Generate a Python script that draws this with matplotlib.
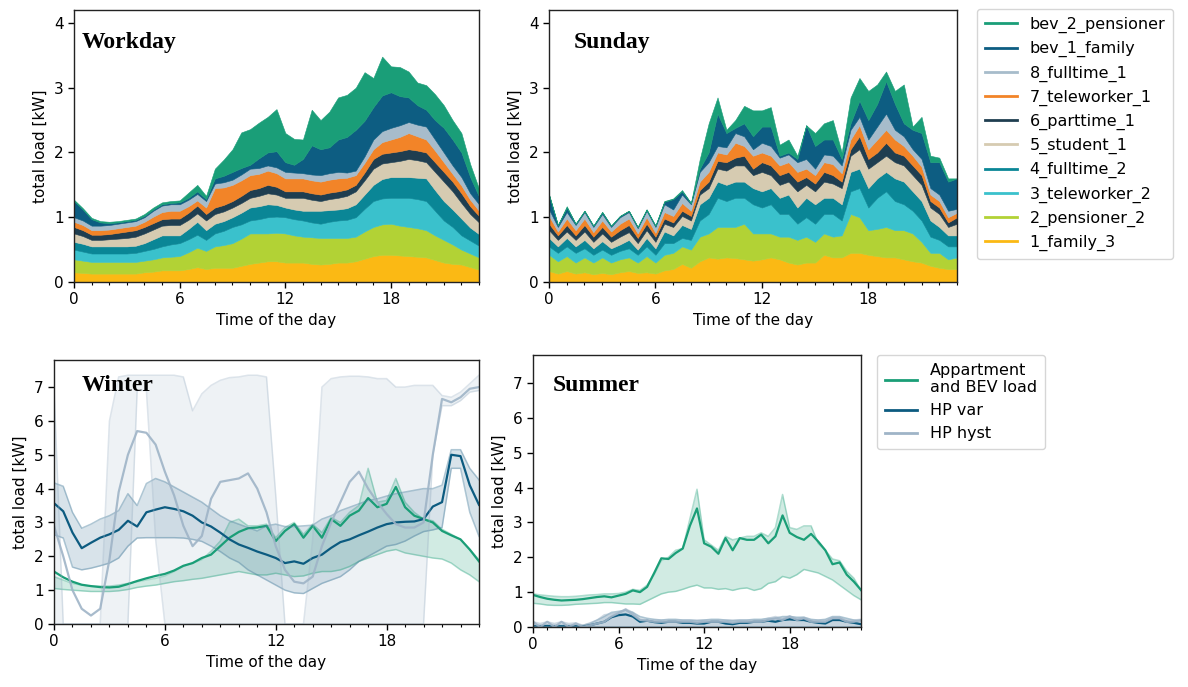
import numpy as np
import matplotlib
matplotlib.use('Agg')
import matplotlib.pyplot as plt
from matplotlib.lines import Line2D
from matplotlib.ticker import MultipleLocator

plt.rcParams['font.family'] = ['DejaVu Sans']

# time of the day (half-hour resolution)
hours = np.arange(0, 23.01, 0.5)

labels = ['1_family_3', '2_pensioner_2', '3_teleworker_2', '4_fulltime_2', '5_student_1',
          '6_parttime_1', '7_teleworker_1', '8_fulltime_1', 'bev_1_family', 'bev_2_pensioner']
colors = ['#fbb914', '#b2d235', '#3ac1cc', '#0a8696', '#d6cbb1',
          '#1f3e50', '#f28428', '#a7bccb', '#0d5d82', '#1a9e78']

# ---------------- Workday layers (kW) ----------------
wd_family_3 = [0.15,0.14,0.13,0.13,0.13,0.13,0.13,0.13,0.15,0.16,0.18,0.18,0.18,0.2,0.23,0.2,0.22,0.22,0.22,0.25,0.28,0.3,0.32,0.32,0.3,0.3,0.3,0.28,0.27,0.28,0.3,0.3,0.32,0.36,0.4,0.42,0.42,0.41,0.4,0.39,0.38,0.34,0.3,0.28,0.27,0.23,0.19]
wd_pensioner_2 = [0.2,0.19,0.18,0.18,0.18,0.18,0.18,0.18,0.18,0.19,0.2,0.21,0.22,0.26,0.3,0.28,0.33,0.35,0.38,0.42,0.47,0.45,0.43,0.44,0.45,0.42,0.4,0.41,0.41,0.4,0.38,0.38,0.38,0.42,0.45,0.47,0.48,0.46,0.45,0.44,0.42,0.38,0.35,0.3,0.23,0.21,0.19]
wd_teleworker_2 = [0.15,0.14,0.13,0.13,0.13,0.13,0.13,0.14,0.15,0.16,0.17,0.19,0.2,0.2,0.2,0.17,0.2,0.22,0.25,0.22,0.2,0.22,0.25,0.25,0.25,0.25,0.25,0.23,0.22,0.25,0.27,0.28,0.3,0.35,0.4,0.4,0.4,0.43,0.45,0.45,0.45,0.38,0.3,0.27,0.22,0.2,0.18]
wd_fulltime_2 = [0.12,0.12,0.11,0.11,0.11,0.11,0.11,0.11,0.12,0.15,0.17,0.14,0.12,0.16,0.2,0.15,0.15,0.15,0.15,0.18,0.2,0.2,0.2,0.18,0.15,0.15,0.15,0.18,0.2,0.18,0.17,0.18,0.2,0.22,0.25,0.3,0.32,0.32,0.32,0.33,0.35,0.32,0.3,0.27,0.26,0.2,0.18]
wd_student_1 = [0.13,0.12,0.1,0.1,0.11,0.12,0.13,0.14,0.15,0.15,0.15,0.16,0.16,0.14,0.13,0.15,0.15,0.15,0.15,0.15,0.15,0.16,0.17,0.16,0.15,0.18,0.2,0.17,0.15,0.17,0.18,0.19,0.2,0.22,0.25,0.24,0.23,0.25,0.28,0.27,0.25,0.28,0.3,0.28,0.24,0.21,0.18]
wd_parttime_1 = [0.1,0.09,0.08,0.08,0.08,0.09,0.1,0.1,0.1,0.1,0.1,0.1,0.1,0.11,0.12,0.1,0.1,0.1,0.1,0.11,0.12,0.12,0.13,0.12,0.1,0.1,0.1,0.1,0.1,0.1,0.1,0.1,0.1,0.12,0.15,0.15,0.15,0.15,0.15,0.15,0.15,0.15,0.15,0.15,0.15,0.12,0.1]
wd_teleworker_1 = [0.08,0.08,0.07,0.07,0.07,0.07,0.07,0.07,0.08,0.1,0.11,0.12,0.12,0.1,0.08,0.1,0.3,0.27,0.25,0.24,0.23,0.22,0.22,0.21,0.2,0.2,0.2,0.2,0.2,0.2,0.2,0.18,0.15,0.15,0.15,0.18,0.2,0.22,0.25,0.22,0.2,0.18,0.15,0.12,0.12,0.1,0.08]
wd_fulltime_1 = [0.07,0.07,0.07,0.07,0.07,0.07,0.07,0.07,0.07,0.09,0.1,0.1,0.1,0.1,0.1,0.1,0.07,0.08,0.08,0.09,0.1,0.09,0.08,0.09,0.1,0.09,0.08,0.09,0.1,0.1,0.1,0.08,0.07,0.1,0.15,0.17,0.18,0.18,0.17,0.18,0.2,0.17,0.15,0.13,0.13,0.1,0.1]
wd_bev_1 = [0.25,0.17,0.1,0.05,0.03,0.02,0.02,0.02,0.02,0.02,0.02,0.02,0.03,0.03,0.04,0.03,0.08,0.1,0.12,0.1,0.06,0.15,0.2,0.25,0.15,0.12,0.22,0.45,0.4,0.4,0.5,0.55,0.63,0.55,0.5,0.55,0.55,0.45,0.38,0.3,0.26,0.3,0.38,0.4,0.38,0.25,0.12]
wd_bev_2 = [0.02,0.02,0.02,0.02,0.02,0.02,0.02,0.02,0.03,0.03,0.03,0.03,0.03,0.08,0.1,0.05,0.15,0.25,0.35,0.55,0.55,0.55,0.55,0.65,0.45,0.4,0.3,0.55,0.45,0.55,0.65,0.65,0.65,0.75,0.45,0.6,0.4,0.45,0.4,0.35,0.38,0.4,0.35,0.3,0.3,0.2,0.12]

# ---------------- Sunday layers (kW) ----------------
su_family_3 = [0.17,0.13,0.17,0.13,0.15,0.12,0.14,0.12,0.15,0.17,0.14,0.15,0.13,0.18,0.2,0.28,0.22,0.32,0.38,0.36,0.38,0.37,0.35,0.33,0.35,0.38,0.35,0.3,0.27,0.3,0.3,0.42,0.38,0.38,0.45,0.45,0.42,0.4,0.38,0.38,0.35,0.32,0.3,0.25,0.22,0.2,0.2]
su_pensioner_2 = [0.25,0.19,0.23,0.17,0.23,0.18,0.24,0.18,0.2,0.21,0.16,0.25,0.17,0.24,0.25,0.27,0.28,0.38,0.37,0.49,0.47,0.48,0.55,0.42,0.4,0.37,0.35,0.4,0.38,0.4,0.32,0.33,0.32,0.34,0.6,0.55,0.38,0.42,0.47,0.42,0.45,0.43,0.32,0.2,0.23,0.15,0.18]
su_teleworker_2 = [0.13,0.13,0.15,0.15,0.14,0.12,0.12,0.12,0.13,0.14,0.12,0.15,0.12,0.18,0.15,0.13,0.15,0.25,0.3,0.45,0.4,0.45,0.4,0.45,0.4,0.45,0.35,0.35,0.25,0.3,0.28,0.3,0.35,0.23,0.35,0.45,0.35,0.48,0.55,0.45,0.4,0.35,0.33,0.25,0.2,0.2,0.17]
su_fulltime_2 = [0.13,0.1,0.13,0.1,0.13,0.1,0.13,0.1,0.1,0.13,0.08,0.13,0.1,0.18,0.12,0.2,0.17,0.25,0.25,0.25,0.25,0.25,0.25,0.25,0.25,0.25,0.25,0.3,0.25,0.3,0.3,0.25,0.25,0.25,0.3,0.3,0.3,0.3,0.3,0.35,0.35,0.3,0.3,0.25,0.2,0.17,0.17]
su_student_1 = [0.12,0.1,0.1,0.1,0.13,0.1,0.12,0.1,0.12,0.12,0.1,0.12,0.1,0.12,0.13,0.14,0.13,0.15,0.15,0.2,0.22,0.25,0.25,0.2,0.3,0.2,0.2,0.2,0.25,0.2,0.2,0.25,0.22,0.25,0.25,0.3,0.3,0.25,0.25,0.25,0.25,0.25,0.25,0.2,0.2,0.13,0.18]
su_parttime_1 = [0.1,0.07,0.1,0.07,0.1,0.08,0.1,0.08,0.1,0.11,0.08,0.1,0.08,0.08,0.07,0.08,0.07,0.07,0.1,0.12,0.13,0.12,0.15,0.1,0.15,0.15,0.15,0.15,0.15,0.12,0.12,0.15,0.13,0.1,0.1,0.2,0.15,0.15,0.2,0.15,0.15,0.15,0.15,0.1,0.1,0.07,0.1]
su_teleworker_1 = [0.12,0.06,0.1,0.08,0.1,0.07,0.1,0.08,0.1,0.1,0.07,0.1,0.06,0.1,0.1,0.12,0.08,0.13,0.15,0.13,0.12,0.23,0.15,0.2,0.15,0.15,0.15,0.15,0.15,0.13,0.13,0.15,0.17,0.13,0.15,0.17,0.15,0.2,0.2,0.2,0.15,0.15,0.13,0.1,0.1,0.08,0.07]
su_fulltime_1 = [0.1,0.07,0.1,0.08,0.1,0.08,0.1,0.07,0.1,0.1,0.08,0.1,0.09,0.12,0.1,0.13,0.1,0.15,0.15,0.1,0.11,0.15,0.15,0.1,0.15,0.15,0.12,0.12,0.15,0.15,0.1,0.12,0.13,0.12,0.15,0.13,0.15,0.2,0.25,0.15,0.15,0.1,0.12,0.1,0.1,0.1,0.06]
su_bev_1 = [0.23,0.03,0.07,0.02,0.02,0.02,0.03,0.02,0.02,0.02,0.02,0.02,0.02,0.04,0.16,0.05,0.02,0.05,0.15,0.5,0.22,0.08,0.2,0.2,0.25,0.3,0.03,0.03,0.05,0.52,0.35,0.23,0.25,0.1,0.1,0.25,0.3,0.35,0.5,0.4,0.2,0.3,0.4,0.4,0.5,0.45,0.47]
su_bev_2 = [0.0,0.0,0.02,0.0,0.0,0.0,0.0,0.0,0.0,0.0,0.0,0.0,0.0,0.01,0.01,0.02,0.0,0.15,0.45,0.25,0.05,0.12,0.27,0.4,0.25,0.3,0.17,0.2,0.05,0.0,0.2,0.25,0.3,0.1,0.4,0.35,0.45,0.3,0.15,0.2,0.6,0.05,0.25,0.1,0.07,0.05,0.0]

# ---------------- Winter (kW) ----------------
wi_app = [1.55,1.38,1.25,1.16,1.12,1.09,1.08,1.1,1.18,1.27,1.35,1.42,1.48,1.58,1.72,1.8,1.95,2.05,2.3,2.55,2.72,2.83,2.85,2.9,2.45,2.75,2.95,2.55,2.9,2.55,3.1,2.9,3.2,3.35,3.72,3.45,3.55,4.05,3.45,3.2,3.1,3.0,2.75,2.62,2.5,2.2,1.85]
wi_app_lo = [1.05,1.02,1.0,0.98,0.96,0.96,0.96,0.98,1.02,1.08,1.12,1.15,1.2,1.25,1.28,1.32,1.35,1.4,1.45,1.5,1.55,1.5,1.45,1.45,1.5,1.45,1.4,1.42,1.5,1.55,1.55,1.6,1.7,1.85,1.95,2.05,2.15,2.2,2.1,2.05,2.0,1.95,1.92,1.8,1.6,1.45,1.25]
wi_app_hi = [1.4,1.3,1.2,1.15,1.12,1.12,1.12,1.15,1.2,1.25,1.3,1.35,1.42,1.55,1.7,1.8,1.9,2.15,2.45,3.0,3.1,2.9,2.9,2.95,2.55,2.85,3.0,2.65,2.95,2.7,3.15,3.0,3.3,3.5,4.6,3.6,3.65,4.3,3.6,3.3,3.1,3.05,2.8,2.65,2.5,2.2,1.9]
wi_var = [3.57,3.33,2.7,2.24,2.4,2.55,2.65,2.78,3.05,2.88,3.3,3.38,3.45,3.4,3.33,3.2,3.0,2.88,2.7,2.5,2.35,2.25,2.14,2.05,1.95,1.8,1.85,1.78,1.95,2.05,2.25,2.42,2.5,2.62,2.73,2.85,2.95,3.0,3.02,3.03,3.1,3.47,3.6,5.0,4.96,4.1,3.52]
wi_var_lo = [2.64,2.54,1.68,1.6,1.65,1.72,1.8,1.95,2.3,2.54,2.55,2.55,2.55,2.55,2.54,2.5,2.44,2.3,2.14,1.95,1.82,1.6,1.45,1.3,1.15,1.0,0.92,0.9,1.05,1.2,1.3,1.4,1.6,1.85,2.0,2.15,2.3,2.35,2.45,2.6,2.73,2.78,2.85,4.6,4.6,3.3,2.59]
wi_var_hi = [4.17,4.07,3.3,2.83,2.95,3.1,3.2,3.35,3.85,3.5,4.15,4.3,4.2,4.05,3.9,3.75,3.6,3.4,3.2,3.05,2.95,2.85,2.75,2.9,2.95,2.88,2.88,2.9,2.92,3.1,3.2,3.35,3.45,3.55,3.65,3.7,3.78,3.85,3.9,3.95,4.0,4.0,4.1,5.15,5.15,4.6,4.26]
wi_hyst = [2.9,2.0,1.0,0.45,0.25,0.45,1.9,3.9,5.0,5.7,5.65,5.3,4.5,3.8,2.9,2.3,2.6,3.7,4.2,4.25,4.3,4.45,4.0,3.3,2.3,1.6,1.25,1.2,1.4,2.3,3.0,3.6,4.2,4.5,4.0,3.6,3.25,2.95,2.85,2.85,3.0,5.0,6.65,6.55,6.7,6.95,7.0]
wi_hyst_lo = [0,0,0,0,0,0,0,0,0,6.9,6.9,2.5,0,0,0,0,0,0,0,0,0,0,0,0,0,0,0,0,0,0,0,0,0,0,0,0,0,0,0,0,0,5.0,6.45,6.45,6.6,6.85,6.9]
wi_hyst_hi = [7.0,0,0,0,0,0,6.0,7.3,7.35,7.35,7.35,7.35,7.35,7.35,7.3,6.3,6.8,7.05,7.2,7.28,7.3,7.35,7.35,7.3,3.8,0,0,0,2.5,7.0,7.25,7.3,7.32,7.32,7.3,7.25,7.25,7.0,7.0,7.05,7.05,7.05,6.75,6.7,6.85,7.1,7.35]

# ---------------- Summer (kW) ----------------
su_app = [0.92,0.86,0.81,0.78,0.76,0.77,0.78,0.8,0.83,0.86,0.88,0.85,0.9,0.95,1.05,1.0,1.15,1.55,1.97,1.95,2.12,2.25,2.9,3.4,2.4,2.3,2.1,2.55,2.2,2.55,2.5,2.5,2.65,2.4,2.6,3.2,2.7,2.58,2.5,2.67,2.45,2.2,1.8,1.85,1.5,1.3,1.06]
su_app_lo = [0.68,0.66,0.63,0.62,0.62,0.63,0.65,0.66,0.67,0.68,0.7,0.7,0.68,0.66,0.66,0.65,0.75,0.85,0.95,1.0,1.02,1.08,1.15,1.2,1.12,1.12,1.08,1.1,1.05,1.1,1.12,1.05,1.1,1.25,1.3,1.45,1.4,1.5,1.65,1.6,1.55,1.45,1.35,1.2,1.05,0.9,0.78]
su_app_hi = [0.95,0.92,0.9,0.88,0.87,0.87,0.88,0.9,0.92,0.93,0.95,0.95,0.96,1.0,1.08,1.05,1.2,1.5,1.9,2.0,2.2,2.25,3.1,3.95,2.5,2.35,2.2,2.6,2.5,2.55,2.6,2.6,2.7,2.6,2.85,3.8,2.85,2.8,2.9,2.9,2.4,2.2,1.95,1.9,1.6,1.4,1.05]
su_var = [0.02,0.02,0.03,0.02,0.02,0.02,0.02,0.02,0.05,0.1,0.15,0.28,0.34,0.36,0.3,0.15,0.18,0.14,0.12,0.15,0.15,0.12,0.12,0.1,0.1,0.15,0.15,0.1,0.08,0.12,0.12,0.15,0.15,0.18,0.15,0.2,0.22,0.2,0.2,0.15,0.12,0.1,0.2,0.2,0.15,0.12,0.08]
su_var_hi = [0.05,0.05,0.05,0.05,0.05,0.05,0.05,0.05,0.1,0.2,0.3,0.42,0.45,0.48,0.42,0.3,0.25,0.22,0.2,0.22,0.22,0.2,0.2,0.18,0.2,0.22,0.22,0.2,0.18,0.2,0.2,0.22,0.22,0.25,0.25,0.3,0.3,0.28,0.28,0.22,0.2,0.22,0.3,0.3,0.25,0.2,0.18]
su_hyst = [0.15,0.0,0.15,0.0,0.15,0.0,0.1,0.0,0.05,0.1,0.15,0.3,0.4,0.5,0.35,0.2,0.18,0.15,0.15,0.15,0.15,0.15,0.15,0.12,0.15,0.15,0.15,0.15,0.12,0.15,0.15,0.15,0.15,0.2,0.25,0.2,0.3,0.2,0.25,0.15,0.15,0.15,0.25,0.25,0.15,0.15,0.2]
su_hyst_hi = [0.15,0.1,0.15,0.1,0.15,0.1,0.12,0.05,0.12,0.2,0.35,0.38,0.42,0.52,0.42,0.22,0.2,0.2,0.2,0.2,0.2,0.2,0.2,0.2,0.2,0.2,0.2,0.2,0.2,0.2,0.2,0.2,0.2,0.25,0.3,0.25,0.32,0.25,0.28,0.2,0.2,0.2,0.28,0.28,0.2,0.2,0.22]

workday = [wd_family_3, wd_pensioner_2, wd_teleworker_2, wd_fulltime_2, wd_student_1,
           wd_parttime_1, wd_teleworker_1, wd_fulltime_1, wd_bev_1, wd_bev_2]
sunday = [su_family_3, su_pensioner_2, su_teleworker_2, su_fulltime_2, su_student_1,
          su_parttime_1, su_teleworker_1, su_fulltime_1, su_bev_1, su_bev_2]

C_APP = '#1a9e77'
C_VAR = '#0c5b80'
C_VARB = '#4f83a1'
C_HYST = '#9fb4c7'

W, H = 1188, 687
fig = plt.figure(figsize=(W / 100, H / 100), dpi=100)


def px_axes(x0, y0, x1, y1):
    return fig.add_axes([x0 / W, 1 - y1 / H, (x1 - x0) / W, (y1 - y0) / H])


def style(ax, ymax):
    ax.set_xlim(0, 23)
    ax.set_ylim(0, ymax)
    ax.set_xticks([0, 6, 12, 18])
    ax.xaxis.set_minor_locator(MultipleLocator(1))
    ax.tick_params(axis='both', which='major', labelsize=11, length=4, width=1)
    ax.tick_params(axis='x', which='minor', length=2.5, width=0.8)
    ax.set_xlabel('Time of the day', fontsize=11, labelpad=4)
    ax.set_ylabel('total load [kW]', fontsize=11, labelpad=4)
    for s in ax.spines.values():
        s.set_linewidth(1)
        s.set_color('#222222')


def title(ax, txt, x, y):
    ax.text(x, y, txt, transform=ax.transAxes, fontsize=17, fontweight='bold',
            family='Liberation Serif', va='center', ha='left')


# ---------- top row: stacked areas ----------
ax1 = px_axes(74, 10, 479, 282)
ax2 = px_axes(549, 10, 957, 282)
for ax, data, name, tx in [(ax1, workday, 'Workday', 0.02), (ax2, sunday, 'Sunday', 0.061)]:
    polys = ax.stackplot(hours, *data, colors=colors)
    for p, c in zip(polys, colors):
        p.set_edgecolor(c)
        p.set_linewidth(0.4)
    style(ax, 4.2)
    ax.set_yticks([0, 1, 2, 3, 4])
    title(ax, name, tx, 0.88)

handles = [Line2D([], [], color=c, lw=2) for c in colors][::-1]
fig.legend(handles, labels[::-1], loc='upper left', bbox_to_anchor=(977 / W, 1 - 9 / H),
           fontsize=11.5, labelspacing=0.5, handlelength=2.0, handletextpad=0.8,
           borderaxespad=0, frameon=True, borderpad=0.5)


# ---------- bottom row: mean lines with bands ----------
def band(ax, y, lo, hi, line_c, band_c, fa, ea, lw=1.6, la=1.0):
    ax.fill_between(hours, lo, hi, color=band_c, alpha=fa, linewidth=0)
    ax.plot(hours, lo, color=band_c, alpha=ea, lw=1.1)
    ax.plot(hours, hi, color=band_c, alpha=ea, lw=1.1)
    ax.plot(hours, y, color=line_c, lw=lw, alpha=la)


ax3 = px_axes(54, 360, 479, 624)
band(ax3, wi_app, wi_app_lo, wi_app_hi, C_APP, C_APP, 0.2, 0.35)
band(ax3, wi_var, wi_var_lo, wi_var_hi, C_VAR, C_VARB, 0.22, 0.45)
band(ax3, wi_hyst, wi_hyst_lo, wi_hyst_hi, C_HYST, C_HYST, 0.17, 0.35, la=0.9)
style(ax3, 7.8)
ax3.set_yticks(range(8))
title(ax3, 'Winter', 0.066, 0.905)

ax4 = px_axes(533, 355, 861, 627)
band(ax4, su_app, su_app_lo, su_app_hi, C_APP, C_APP, 0.2, 0.35)
band(ax4, su_var, np.zeros_like(hours), su_var_hi, C_VAR, C_VARB, 0.22, 0.45)
band(ax4, su_hyst, np.zeros_like(hours), su_hyst_hi, C_HYST, C_HYST, 0.3, 0.5, la=0.9)
style(ax4, 7.8)
ax4.set_yticks(range(8))
title(ax4, 'Summer', 0.061, 0.887)

h2 = [Line2D([], [], color=C_APP, lw=2), Line2D([], [], color=C_VAR, lw=2),
      Line2D([], [], color=C_HYST, lw=2)]
fig.legend(h2, ['Appartment\nand BEV load', 'HP var', 'HP hyst'], loc='upper left',
           bbox_to_anchor=(877 / W, 1 - 355 / H), fontsize=11.5, labelspacing=0.5,
           handlelength=2.0, handletextpad=0.8, borderaxespad=0, frameon=True, borderpad=0.5)

fig.savefig('out.png', dpi=100)
